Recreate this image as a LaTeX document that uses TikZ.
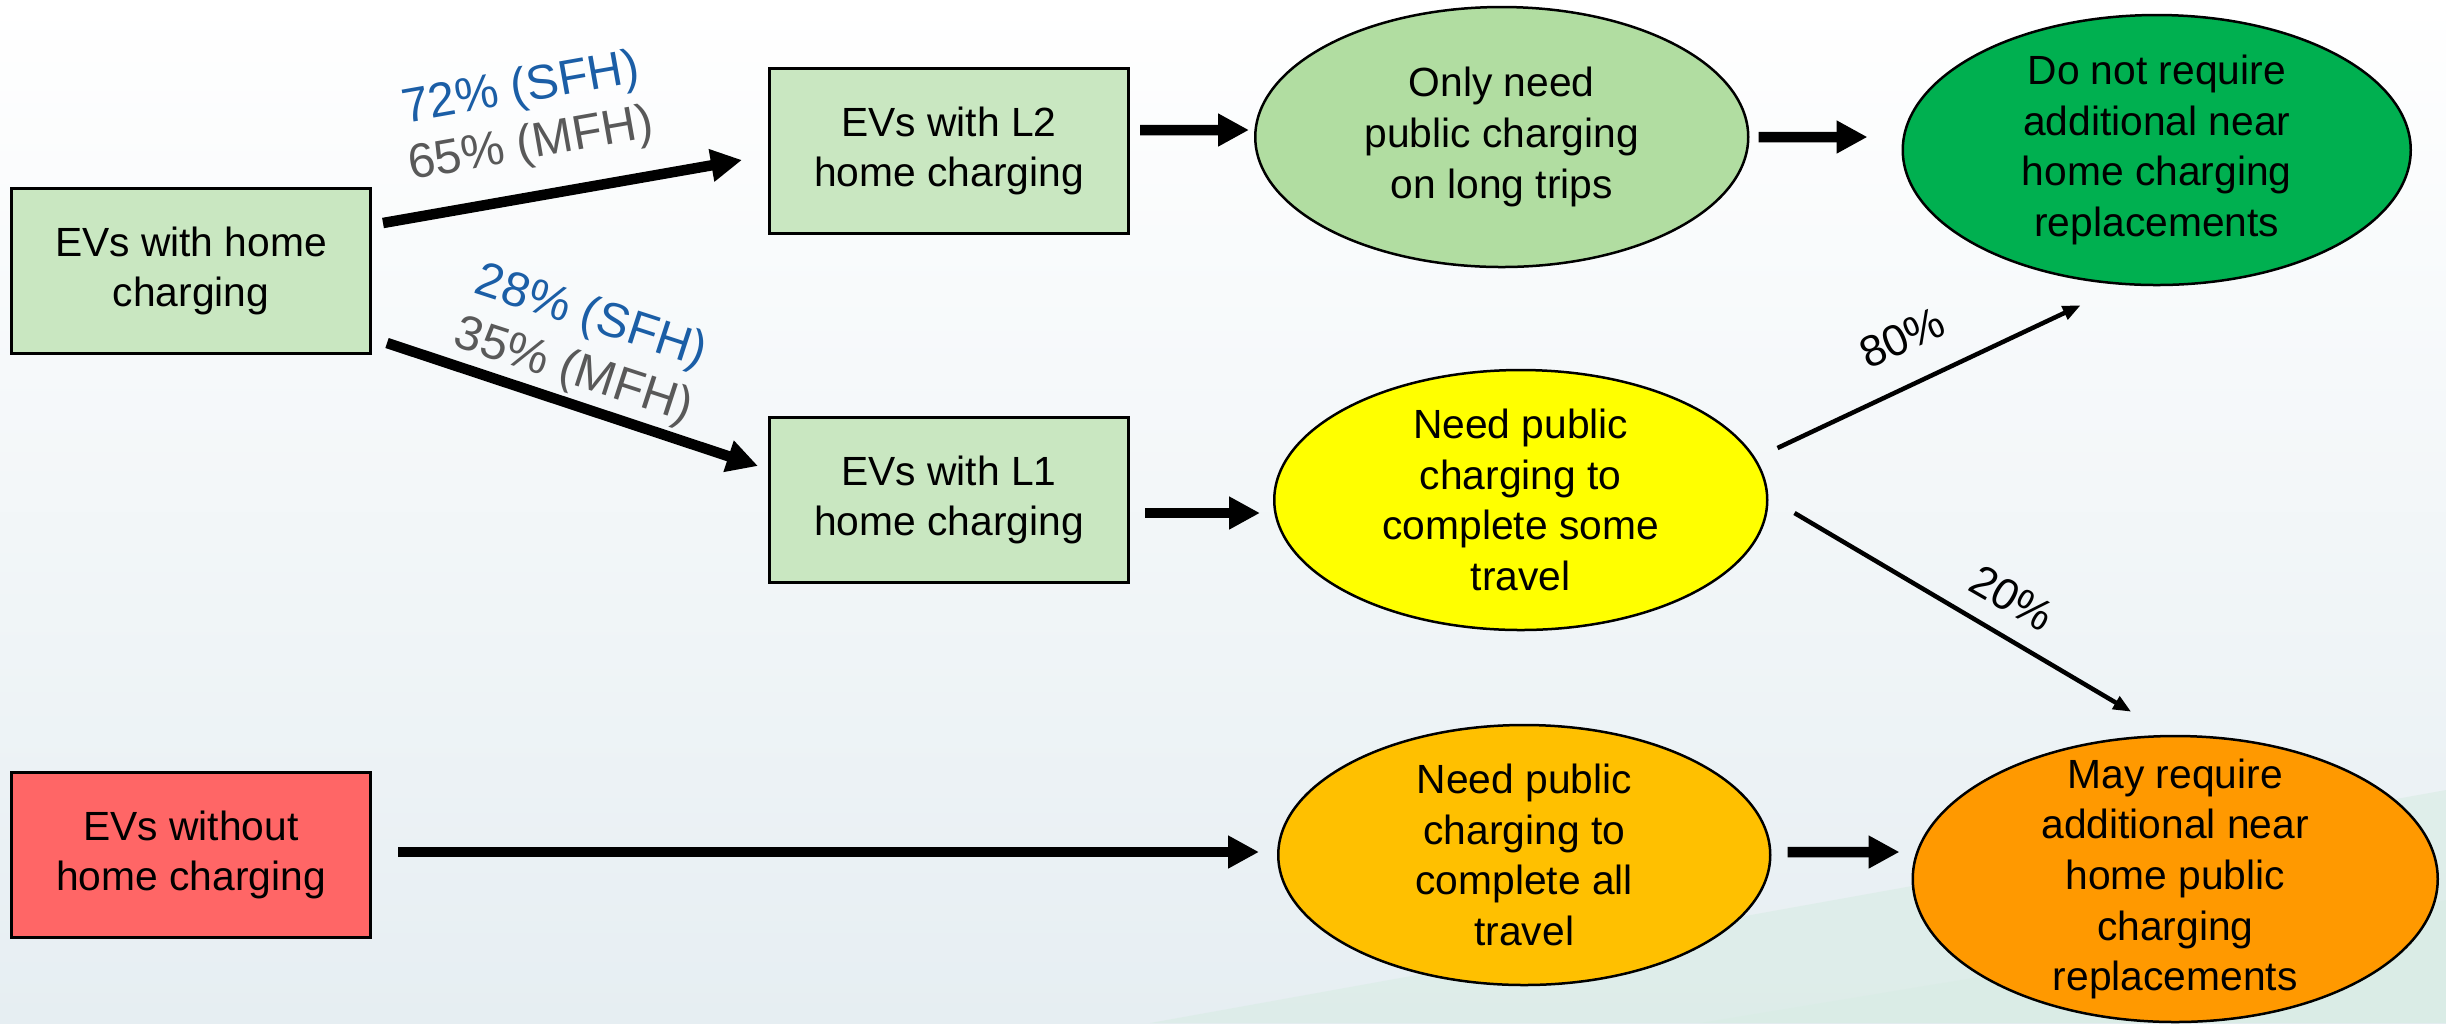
\documentclass[tikz,border=0pt]{standalone}
\usepackage{fontspec}
\setmainfont{Liberation Sans}
\usepackage{tikz}
\usetikzlibrary{arrows.meta,positioning,shapes.geometric}
\definecolor{EVBox}{HTML}{C9E7C1}
\definecolor{EVTrips}{HTML}{B1DDA1}
\definecolor{EVGreen}{HTML}{00B050}
\definecolor{EVYellow}{HTML}{FFFF00}
\definecolor{EVAmber}{HTML}{FFC000}
\definecolor{EVOrange}{HTML}{FF9900}
\definecolor{EVRed}{HTML}{FF6666}
\definecolor{EVBlue}{HTML}{1B5EA6}
\definecolor{EVGray}{HTML}{595959}
\definecolor{EVMist}{HTML}{E6EEF2}
\definecolor{EVMint}{HTML}{D8ECE4}

\begin{document}
\begin{tikzpicture}[
  x=0.1mm,y=-0.1mm,
  box/.style={draw=black,line width=0.3mm,fill=EVBox,minimum width=35.9mm,minimum height=16.5mm,inner sep=0pt,align=center,font=\fontsize{11.6}{14.4}\selectfont},
  oval/.style={ellipse,draw=black,line width=0.25mm,minimum width=49.3mm,minimum height=26mm,inner xsep=0pt,inner ysep=-6mm,align=center,font=\fontsize{11.6}{14.4}\selectfont},
  pct/.style={align=center,inner sep=0pt,font=\fontsize{13.8}{16.2}\selectfont},
  fat/.style={-{Triangle[length=3.1mm,width=3.1mm]},line width=1.05mm},
  thin/.style={-{Triangle[length=1.8mm,width=1.4mm]},line width=0.45mm}
]
\useasboundingbox (0,0) rectangle (2446,1023);
\fill[top color=white,middle color=white,bottom color=EVMist] (0,0) rectangle (2446,1023);
\fill[EVMint,opacity=0.6] (1150,1023) -- (2446,790) -- (2446,1023) -- cycle;
\fill[EVMint,opacity=0.5] (1700,1023) -- (2446,900) -- (2446,1023) -- cycle;

\node[box] (home) at (191,271) {EVs with home\\charging};
\node[box,right=39.6mm of home,yshift=12mm] (l2) {EVs with L2\\home charging};
\node[box,below=18.1mm of l2] (l1) {EVs with L1\\home charging};
\node[box,fill=EVRed,below=41.6mm of home] (nohome) {EVs without\\home charging};

\node[oval,fill=EVTrips,right=12.4mm of l2,yshift=1.4mm] (trips) {Only need\\public charging\\on long trips};
\node[oval,fill=EVYellow,right=14.3mm of l1] (some) {Need public\\charging to\\complete some\\travel};
\node[oval,fill=EVAmber,minimum width=49.2mm,right=90.5mm of nohome] (all) {Need public\\charging to\\complete all\\travel};
\node[oval,fill=EVGreen,minimum width=50.8mm,minimum height=27mm,right=15.2mm of trips,yshift=-1.3mm] (notreq) {Do not require\\additional near\\home charging\\replacements};
\node[oval,fill=EVOrange,minimum width=52.5mm,minimum height=28.6mm,right=14mm of all,yshift=-2.4mm] (mayreq) {May require\\additional near\\home public\\charging\\replacements};

\draw[fat] ([shift={(11,-48)}]home.east) -- ([shift={(-26,9)}]l2.west);
\draw[fat] ([shift={(15,72)}]home.east) -- ([shift={(-10,-34)}]l1.west);
\draw[fat] ([shift={(10,-21)}]l2.east) -- ([shift={(-5,-7)}]trips.west);
\draw[fat] ([shift={(9,0)}]trips.east) -- ([shift={(-34,-13)}]notreq.west);
\draw[fat] ([shift={(15,13)}]l1.east) -- ([shift={(-13,13)}]some.west);
\draw[fat] ([shift={(26,-3)}]nohome.east) -- ([shift={(-18,-3)}]all.west);
\draw[fat] ([shift={(16,-3)}]all.east) -- ([shift={(-12,-27)}]mayreq.west);
\draw[thin] ([shift={(9,-52)}]some.east) -- ([shift={(-76,19)}]notreq.south);
\draw[thin] ([shift={(26,13)}]some.east) -- ([shift={(-44,-23)}]mayreq.north);

\node[pct,rotate=10] (share72) at (526,118) {\textcolor{EVBlue}{72\% (SFH)}\\\textcolor{EVGray}{65\% (MFH)}};
\node[pct,rotate=-18] (share28) at (582,345) {\textcolor{EVBlue}{28\% (SFH)}\\\textcolor{EVGray}{35\% (MFH)}};
\node[pct,font=\fontsize{12.5}{15}\selectfont,rotate=24] (share80) at (1902,338) {80\%};
\node[pct,font=\fontsize{12.5}{15}\selectfont,rotate=-30] (share20) at (2012,598) {20\%};
\end{tikzpicture}
\end{document}
